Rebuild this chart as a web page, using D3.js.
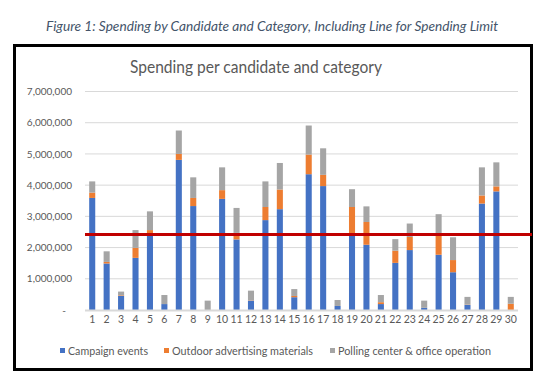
<!DOCTYPE html>
<html><head><meta charset="utf-8">
<script src="https://cdn.jsdelivr.net/npm/d3@7/dist/d3.min.js"></script>
<style>body{margin:0;background:#fff}svg{display:block}</style>
</head><body>
<svg id="chart" width="557" height="374"></svg>
<script>
const categories = d3.range(1, 31).map(String);
const seriesNames = ["Campaign events", "Outdoor advertising materials", "Polling center & office operation"];
const campaignEvents = [3590000,1490000,450000,1670000,2450000,190000,4810000,3330000,0,3560000,2260000,300000,2880000,3230000,410000,4350000,3970000,130000,2400000,2090000,190000,1510000,1920000,70000,1770000,1210000,160000,3410000,3800000,0];
const outdoorAdvertising = [170000,50000,20000,320000,110000,0,190000,260000,0,280000,210000,10000,420000,630000,40000,630000,360000,0,900000,730000,60000,390000,420000,0,660000,390000,10000,260000,160000,200000];
const pollingOffice = [360000,340000,120000,570000,600000,290000,750000,660000,300000,730000,800000,310000,820000,850000,220000,930000,850000,190000,570000,500000,230000,370000,430000,230000,640000,730000,250000,900000,770000,220000];
const spendingLimit = 2420000;
const yTicks = [0,1000000,2000000,3000000,4000000,5000000,6000000,7000000];
const colors = ["#4472c4", "#ed7d31", "#a5a5a5"];

const svg = d3.select("#chart");
const font = "Lato, 'Open Sans', sans-serif";

// Figure caption
svg.append("text").attr("x", 272).attr("y", 31).attr("text-anchor", "middle")
  .attr("font-family", font).attr("font-style", "italic").attr("font-size", 13)
  .attr("fill", "#44546a").attr("textLength", 452).attr("lengthAdjust", "spacingAndGlyphs")
  .text("Figure 1: Spending by Candidate and Category, Including Line for Spending Limit");

// Frame
svg.append("rect").attr("x", 14.5).attr("y", 45.5).attr("width", 517).attr("height", 324)
  .attr("fill", "#fff").attr("stroke", "#000").attr("stroke-width", 3);

// Chart title
svg.append("text").attr("x", 256).attr("y", 73).attr("text-anchor", "middle")
  .attr("font-family", font).attr("font-size", 16.5).attr("fill", "#595959")
  .attr("textLength", 252).attr("lengthAdjust", "spacingAndGlyphs")
  .text("Spending per candidate and category");

const x = d3.scaleBand().domain(categories).range([85, 518]).paddingInner(0.58).paddingOuter(0.29);
const y = d3.scaleLinear().domain([0, 7000000]).range([310, 91.5]);

// Gridlines
svg.append("g").selectAll("line").data(yTicks.slice(1)).join("line")
  .attr("x1", 85).attr("x2", 518).attr("y1", d => y(d)).attr("y2", d => y(d))
  .attr("stroke", "#d9d9d9").attr("stroke-width", 1);

// Y axis labels
const yAxis = d3.axisLeft(y).tickValues(yTicks).tickSize(0)
  .tickFormat(d => d === 0 ? "-" : d3.format(",")(d));
const gy = svg.append("g").attr("transform", "translate(78,0)").call(yAxis);
gy.select(".domain").remove();
gy.selectAll("text").attr("font-family", font).attr("font-size", 10).attr("fill", "#595959")
  .attr("x", d => d === 0 ? -12 : -6);

// Stacked bars
const data = categories.map((c, i) => ({cat: c, s0: campaignEvents[i], s1: outdoorAdvertising[i], s2: pollingOffice[i]}));
const stack = d3.stack().keys(["s0", "s1", "s2"])(data);
svg.append("g").selectAll("g").data(stack).join("g").attr("fill", (d, i) => colors[i])
  .selectAll("rect").data(d => d).join("rect")
  .attr("x", d => x(d.data.cat)).attr("width", x.bandwidth())
  .attr("y", d => y(d[1])).attr("height", d => Math.max(0, y(d[0]) - y(d[1])));

// X axis baseline
svg.append("line").attr("x1", 85).attr("x2", 518).attr("y1", 310.5).attr("y2", 310.5)
  .attr("stroke", "#d9d9d9").attr("stroke-width", 2);

// X axis labels
const xAxis = d3.axisBottom(x).tickSize(0);
const gx = svg.append("g").attr("transform", "translate(0,313)").call(xAxis);
gx.select(".domain").remove();
gx.selectAll("text").attr("font-family", font).attr("font-size", 10.5).attr("fill", "#595959");

// Spending limit line
svg.append("line").attr("x1", 85).attr("x2", 532).attr("y1", y(spendingLimit)).attr("y2", y(spendingLimit))
  .attr("stroke", "#c00000").attr("stroke-width", 3);

// Legend
const legendX = [60, 164, 330];
const legendLen = [80, 141, 153];
const legend = svg.append("g").selectAll("g").data(seriesNames).join("g")
  .attr("transform", (d, i) => `translate(${legendX[i]},351)`);
legend.append("rect").attr("x", 0).attr("y", -3).attr("width", 5).attr("height", 5).attr("fill", (d, i) => colors[i]);
legend.append("text").attr("x", 8).attr("y", 3.5).attr("font-family", font).attr("font-size", 10.5)
  .attr("fill", "#595959").attr("textLength", (d, i) => legendLen[i]).attr("lengthAdjust", "spacingAndGlyphs")
  .text(d => d);
</script>
</body></html>
